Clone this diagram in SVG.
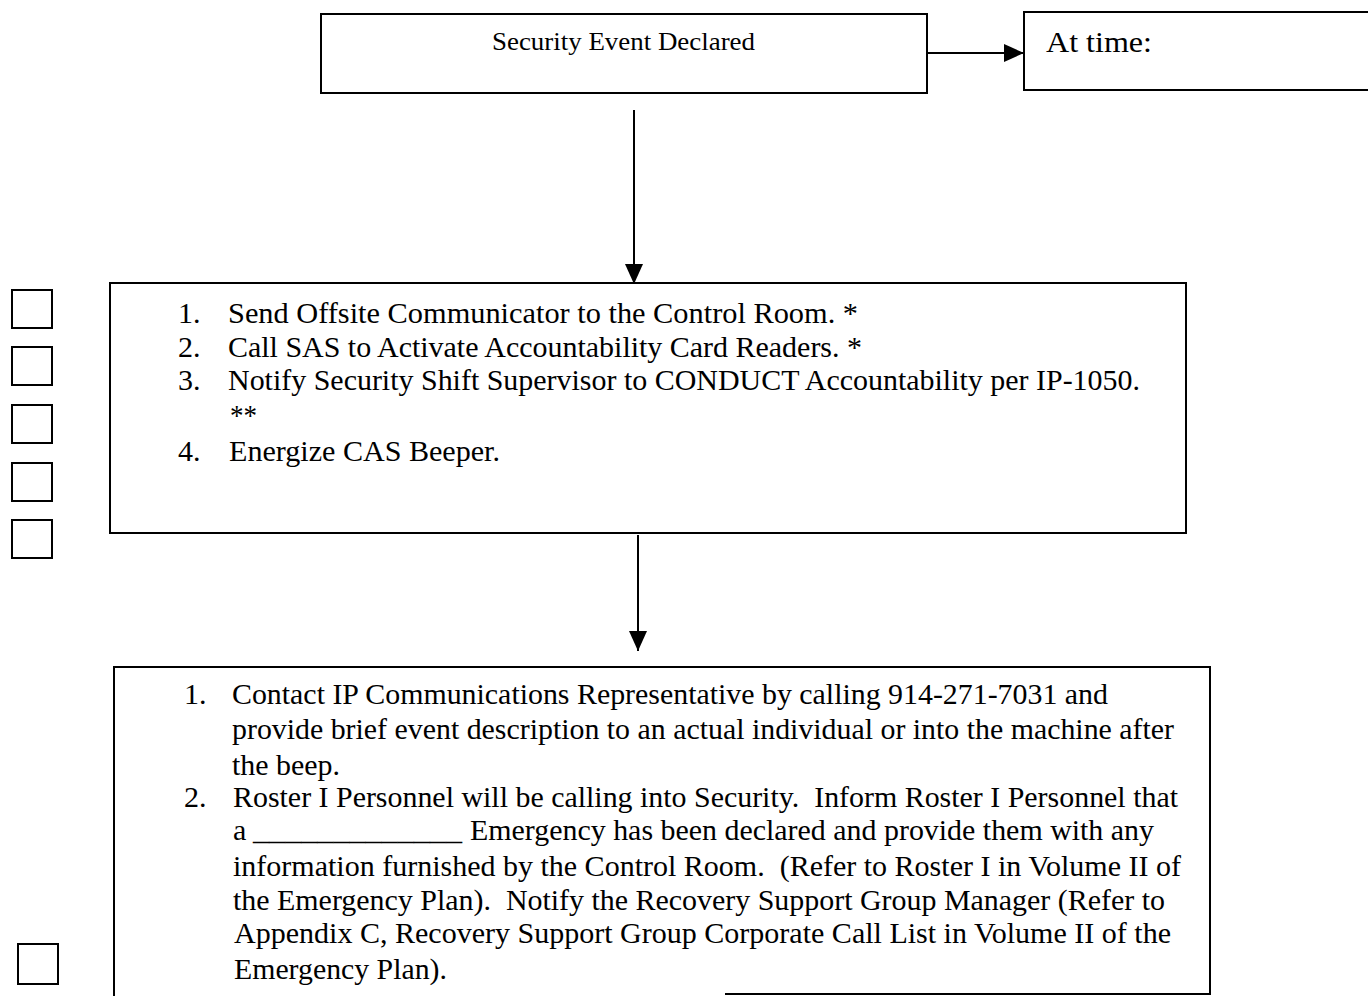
<svg xmlns="http://www.w3.org/2000/svg" width="1368" height="996" viewBox="0 0 1368 996">
  <style>
    .box { fill: none; stroke: #000; stroke-width: 2; }
    .chk { fill: #fff; stroke: #000; stroke-width: 2; }
    .edge { fill: none; stroke: #000; stroke-width: 2; }
    text { font-family: "Liberation Serif", "Times New Roman", serif; fill: #000; white-space: pre; }
    .t { font-size: 30px; }
    .s { font-size: 26px; }
    .l { font-size: 30px; }
  </style>
  <defs>
    <marker id="arrowBig" viewBox="0 0 20 18" refX="20" refY="9" markerWidth="20" markerHeight="18" markerUnits="userSpaceOnUse" orient="auto">
      <path d="M0,0 L20,9 L0,18 Z" fill="#000"/>
    </marker>
  </defs>

  <rect width="1368" height="996" fill="#fff"/>

  <!-- connectors -->
  <g id="connectors">
    <line class="edge" x1="927" y1="53" x2="1024" y2="53" marker-end="url(#arrowBig)"/>
    <line class="edge" x1="634" y1="110" x2="634" y2="284" marker-end="url(#arrowBig)"/>
    <line class="edge" x1="638" y1="535" x2="638" y2="651" marker-end="url(#arrowBig)"/>
  </g>

  <!-- declaration box -->
  <g id="declared">
    <rect class="box" x="321" y="14" width="606" height="79"/>
    <text class="s" x="492" y="50" textLength="263" lengthAdjust="spacingAndGlyphs">Security Event Declared</text>
  </g>

  <!-- time box, runs off the right edge -->
  <g id="at-time">
    <path class="box" d="M1370,12 L1024,12 L1024,90 L1370,90"/>
    <text class="l" x="1046" y="52" textLength="106" lengthAdjust="spacingAndGlyphs">At time:</text>
  </g>

  <!-- first action list -->
  <g id="actions-1">
    <rect class="box" x="110" y="283" width="1076" height="250"/>
    <text class="t" x="178" y="323">1.</text>
    <text class="t" x="228" y="323" textLength="630" lengthAdjust="spacingAndGlyphs">Send Offsite Communicator to the Control Room. *</text>
    <text class="t" x="178" y="357">2.</text>
    <text class="t" x="228" y="357" textLength="634" lengthAdjust="spacingAndGlyphs">Call SAS to Activate Accountability Card Readers. *</text>
    <text class="t" x="178" y="390">3.</text>
    <text class="t" x="228" y="390" textLength="912" lengthAdjust="spacingAndGlyphs">Notify Security Shift Supervisor to CONDUCT Accountability per IP-1050.</text>
    <text class="t" x="230" y="425" textLength="27" lengthAdjust="spacingAndGlyphs">**</text>
    <text class="t" x="178" y="461">4.</text>
    <text class="t" x="229" y="461" textLength="271" lengthAdjust="spacingAndGlyphs">Energize CAS Beeper.</text>
  </g>

  <!-- check-off boxes -->
  <g id="checks-1">
    <rect class="chk" x="12" y="290" width="40" height="38"/>
    <rect class="chk" x="12" y="347" width="40" height="38"/>
    <rect class="chk" x="12" y="405" width="40" height="38"/>
    <rect class="chk" x="12" y="463" width="40" height="38"/>
    <rect class="chk" x="12" y="520" width="40" height="38"/>
  </g>

  <!-- second action list, cut at the page bottom -->
  <g id="actions-2">
    <path class="box" d="M114,998 L114,667 L1210,667 L1210,994 L725,994"/>
    <text class="t" x="184" y="704">1.</text>
    <text class="t" x="232" y="704" textLength="876" lengthAdjust="spacingAndGlyphs">Contact IP Communications Representative by calling 914-271-7031 and</text>
    <text class="t" x="232" y="739" textLength="942" lengthAdjust="spacingAndGlyphs">provide brief event description to an actual individual or into the machine after</text>
    <text class="t" x="232" y="775" textLength="108" lengthAdjust="spacingAndGlyphs">the beep.</text>
    <text class="t" x="184" y="807">2.</text>
    <text class="t" x="233" y="807" textLength="945" lengthAdjust="spacingAndGlyphs">Roster I Personnel will be calling into Security.  Inform Roster I Personnel that</text>
    <text class="t" x="233" y="840">a</text>
    <text class="t" x="253" y="840" textLength="209" lengthAdjust="spacingAndGlyphs">_____________</text>
    <text class="t" x="470" y="840" textLength="684" lengthAdjust="spacingAndGlyphs">Emergency has been declared and provide them with any</text>
    <text class="t" x="233" y="876" textLength="948" lengthAdjust="spacingAndGlyphs">information furnished by the Control Room.  (Refer to Roster I in Volume II of</text>
    <text class="t" x="233" y="910" textLength="932" lengthAdjust="spacingAndGlyphs">the Emergency Plan).  Notify the Recovery Support Group Manager (Refer to</text>
    <text class="t" x="234" y="943" textLength="937" lengthAdjust="spacingAndGlyphs">Appendix C, Recovery Support Group Corporate Call List in Volume II of the</text>
    <text class="t" x="234" y="979" textLength="213" lengthAdjust="spacingAndGlyphs">Emergency Plan).</text>
  </g>

  <g id="checks-2">
    <rect class="chk" x="18" y="944" width="40" height="40"/>
  </g>
</svg>
